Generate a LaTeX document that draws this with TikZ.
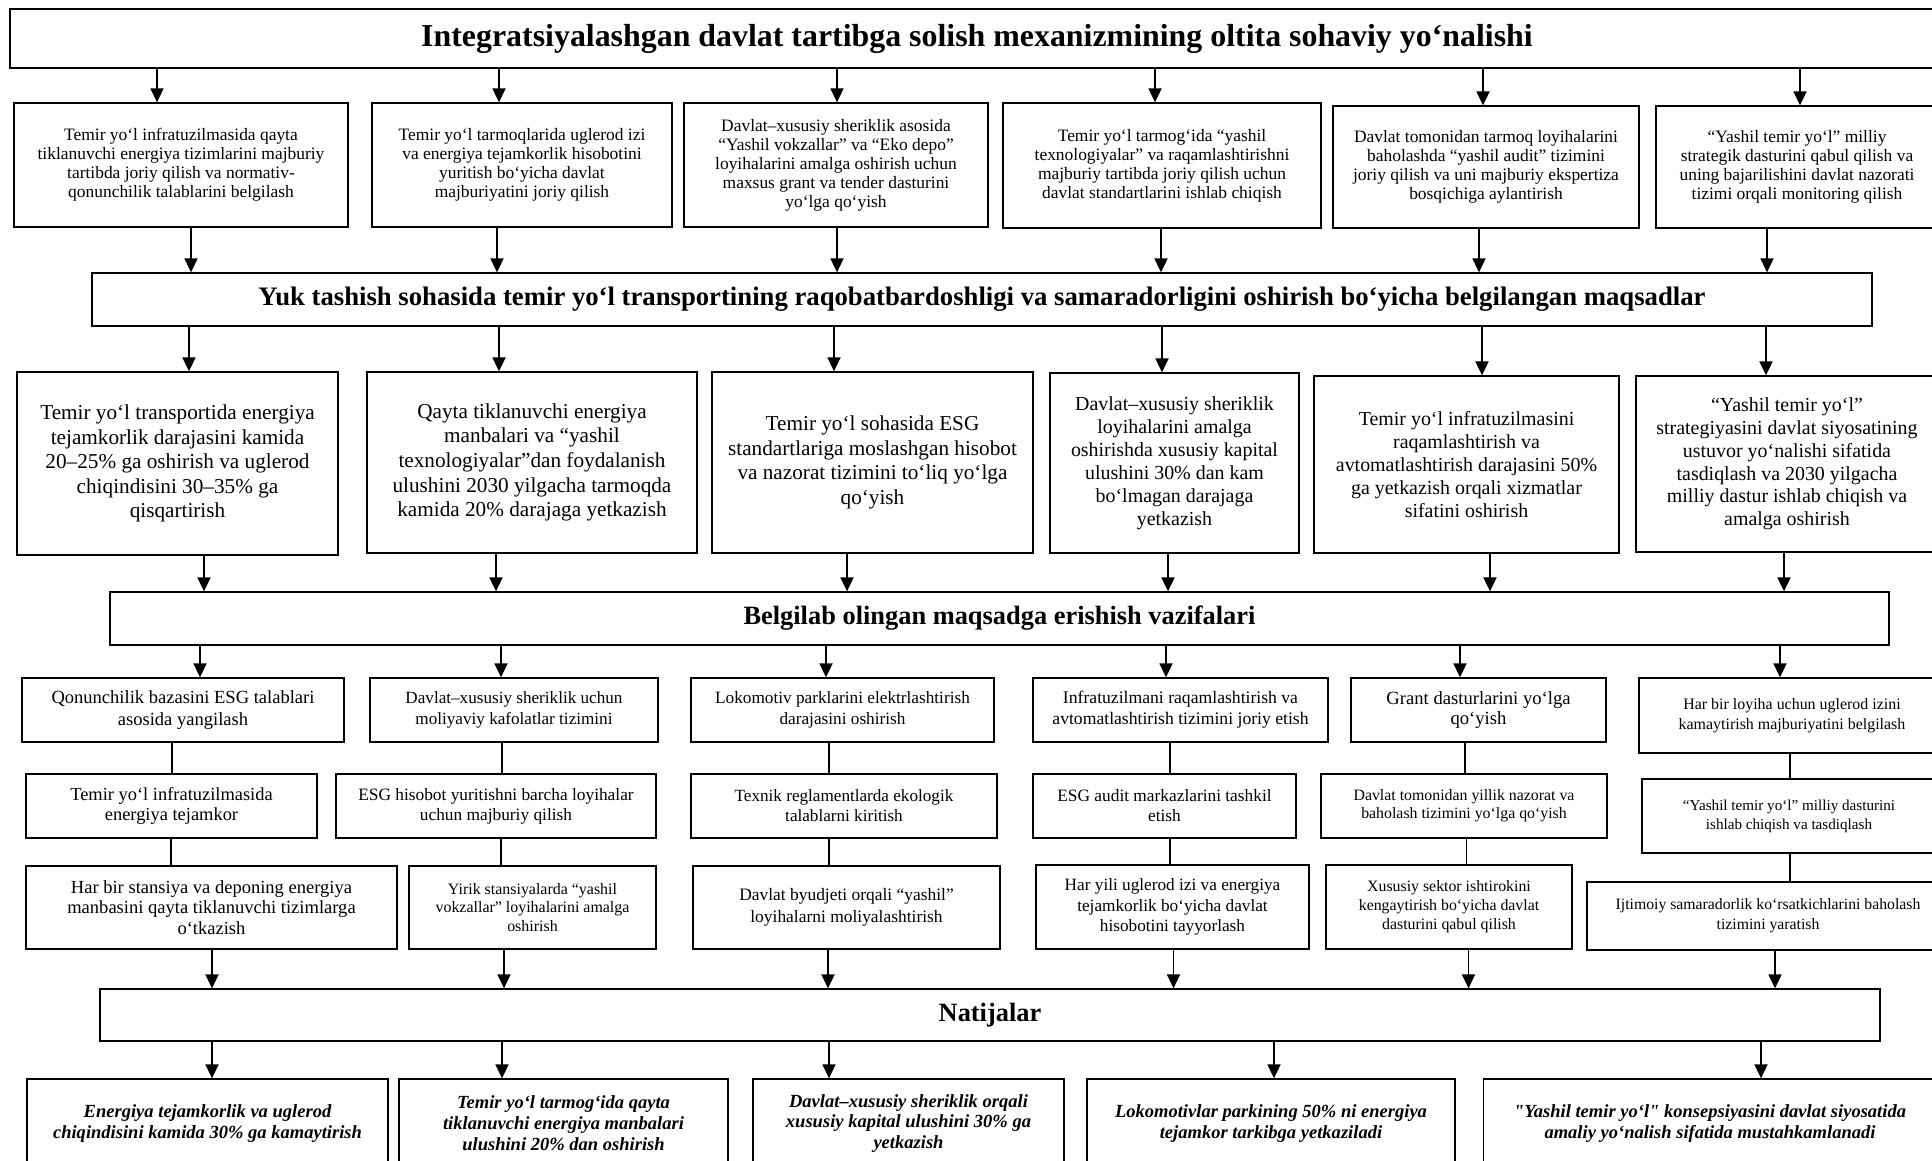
\documentclass[tikz,border=0pt]{standalone}
\usepackage{fontspec}
\setmainfont{Liberation Serif}
\usetikzlibrary{arrows.meta,calc}
\tikzset{
  bx/.style={draw, line width=1.3bp, align=center, inner sep=1bp},
  fs/.style 2 args={font=\fontsize{#1}{#2}\selectfont},
  fsb/.style 2 args={font=\bfseries\fontsize{#1}{#2}\selectfont},
  fsbi/.style 2 args={font=\bfseries\itshape\fontsize{#1}{#2}\selectfont},
  arr/.style={line width=1.8bp, -{Triangle[length=14bp,width=13bp]}},
  ln/.style={line width=1.3bp},
}
% straight double quote
\newcommand\StrQ{{\addfontfeatures{Ligatures=TeXOff}"}}
% arrow from title #1 down to box #2, offset #3 from the box centre
\newcommand\DnArr[3]{\draw[arr] ($(#2.north|-#1.south)+(#3,0)$) -- ($(#2.north)+(#3,0)$);}
% arrow from box #1 down to title #2, offset #3 from the box centre
\newcommand\UpArr[3]{\draw[arr] ($(#1.south)+(#3,0)$) -- ($(#1.south|-#2.north)+(#3,0)$);}
% plain link from box #1 down to box #2, offset #3 from the upper box centre
\newcommand\Lnk[3]{\draw[ln] ($(#1.south)+(#3,0)$) -- ($(#1.south|-#2.north)+(#3,0)$);}
\begin{document}
\begin{tikzpicture}[x=1bp,y=-1bp]
\useasboundingbox (0,0) rectangle (1932,1160);
\fill[white] (0,0) rectangle (1932,1160);
\clip (0,0) rectangle (1932,1160);

% ---------- title 1
\node[bx,fsb={32}{38},minimum width=1934bp,minimum height=59bp] (t1) at (977,38.5)
 {Integratsiyalashgan davlat tartibga solish mexanizmining oltita sohaviy yo‘nalishi};

% ---------- row B
\node[bx,fs={17.5}{19.2},minimum width=334bp,minimum height=124bp] (b1) at (181,165)
 {Temir yo‘l infratuzilmasida qayta\\tiklanuvchi energiya tizimlarini majburiy\\tartibda joriy qilish va normativ-\\qonunchilik talablarini belgilash};
\node[bx,fs={17.5}{19.2},minimum width=300bp,minimum height=124bp] (b2) at (522,165)
 {Temir yo‘l tarmoqlarida uglerod izi\\va energiya tejamkorlik hisobotini\\yuritish bo‘yicha davlat\\majburiyatini joriy qilish};
\node[bx,fs={17.5}{19},minimum width=304bp,minimum height=124bp] (b3) at (836,165)
 {Davlat–xususiy sheriklik asosida\\“Yashil vokzallar” va “Eko depo”\\loyihalarini amalga oshirish uchun\\maxsus grant va tender dasturini\\yo‘lga qo‘yish};
\node[bx,fs={17.5}{19.2},minimum width=318bp,minimum height=125bp] (b4) at (1162,165.5)
 {Temir yo‘l tarmog‘ida “yashil\\texnologiyalar” va raqamlashtirishni\\majburiy tartibda joriy qilish uchun\\davlat standartlarini ishlab chiqish};
\node[bx,fs={17.5}{19.2},minimum width=306bp,minimum height=122bp] (b5) at (1486,167)
 {Davlat tomonidan tarmoq loyihalarini\\baholashda “yashil audit” tizimini\\joriy qilish va uni majburiy ekspertiza\\bosqichiga aylantirish};
\node[bx,fs={17.5}{19.2},minimum width=282bp,minimum height=122bp] (b6) at (1797,167)
 {“Yashil temir yo‘l” milliy\\strategik dasturini qabul qilish va\\uning bajarilishini davlat nazorati\\tizimi orqali monitoring qilish};

% ---------- title 2
\node[bx,fsb={26.8}{32},minimum width=1780bp,minimum height=53bp] (t2) at (982,299.5)
 {Yuk tashish sohasida temir yo‘l transportining raqobatbardoshligi va samaradorligini oshirish bo‘yicha belgilangan maqsadlar};

% ---------- row C
\node[bx,fs={21.3}{24.7},minimum width=321bp,minimum height=183bp] (c1) at (177.5,463.5)
 {Temir yo‘l transportida energiya\\tejamkorlik darajasini kamida\\20–25\% ga oshirish va uglerod\\chiqindisini 30–35\% ga\\qisqartirish};
\node[bx,fs={21.3}{24.7},minimum width=330bp,minimum height=181bp] (c2) at (532,462.5)
 {Qayta tiklanuvchi energiya\\manbalari va “yashil\\texnologiyalar”dan foydalanish\\ulushini 2030 yilgacha tarmoqda\\kamida 20\% darajaga yetkazish};
\node[bx,fs={21.3}{24.7},minimum width=321bp,minimum height=181bp] (c3) at (872.5,462.5)
 {Temir yo‘l sohasida ESG\\standartlariga moslashgan hisobot\\va nazorat tizimini to‘liq yo‘lga\\qo‘yish};
\node[bx,fs={20}{23},minimum width=249bp,minimum height=180bp] (c4) at (1174.5,463)
 {Davlat–xususiy sheriklik\\loyihalarini amalga\\oshirishda xususiy kapital\\ulushini 30\% dan kam\\bo‘lmagan darajaga\\yetkazish};
\node[bx,fs={20}{23},minimum width=305bp,minimum height=177bp] (c5) at (1466.5,464.5)
 {Temir yo‘l infratuzilmasini\\raqamlashtirish va\\avtomatlashtirish darajasini 50\%\\ga yetkazish orqali xizmatlar\\sifatini oshirish};
\node[bx,fs={20}{22.8},minimum width=302bp,minimum height=176bp] (c6) at (1787,464)
 {“Yashil temir yo‘l”\\strategiyasini davlat siyosatining\\ustuvor yo‘nalishi sifatida\\tasdiqlash va 2030 yilgacha\\milliy dastur ishlab chiqish va\\amalga oshirish};

% ---------- title 3
\node[bx,fsb={26.5}{32},minimum width=1779bp,minimum height=53bp] (t3) at (999.5,618.5)
 {Belgilab olingan maqsadga erishish vazifalari};

% ---------- row D
\node[bx,fs={18.6}{21.7},minimum width=322bp,minimum height=64bp] (d1a) at (183,710)
 {Qonunchilik bazasini ESG talablari\\asosida yangilash};
\node[bx,fs={18.5}{20},minimum width=291bp,minimum height=64bp] (d1b) at (171.5,806)
 {Temir yo‘l infratuzilmasida\\energiya tejamkor};
\node[bx,fs={18.6}{20.5},minimum width=371bp,minimum height=83bp] (d1c) at (211.5,907.5)
 {Har bir stansiya va deponing energiya\\manbasini qayta tiklanuvchi tizimlarga\\o‘tkazish};

\node[bx,fs={17.2}{21},minimum width=288bp,minimum height=64bp] (d2a) at (514,710)
 {Davlat–xususiy sheriklik uchun\\moliyaviy kafolatlar tizimini};
\node[bx,fs={17.4}{20},minimum width=320bp,minimum height=64bp] (d2b) at (496,806)
 {ESG hisobot yuritishni barcha loyihalar\\uchun majburiy qilish};
\node[bx,fs={16}{19},minimum width=247bp,minimum height=83bp] (d2c) at (532.5,907.5)
 {Yirik stansiyalarda “yashil\\vokzallar” loyihalarini amalga\\oshirish};

\node[bx,fs={17.3}{21},minimum width=303bp,minimum height=64bp] (d3a) at (842.5,710)
 {Lokomotiv parklarini elektrlashtirish\\darajasini oshirish};
\node[bx,fs={17.2}{20},minimum width=306bp,minimum height=64bp] (d3b) at (844,806)
 {Texnik reglamentlarda ekologik\\talablarni kiritish};
\node[bx,fs={17.5}{22},minimum width=307bp,minimum height=83bp] (d3c) at (846.5,907.5)
 {Davlat byudjeti orqali “yashil”\\loyihalarni moliyalashtirish};

\node[bx,fs={17.7}{21},minimum width=295bp,minimum height=64bp] (d4a) at (1180.5,710)
 {Infratuzilmani raqamlashtirish va\\avtomatlashtirish tizimini joriy etish};
\node[bx,fs={17.4}{20},minimum width=263bp,minimum height=64bp] (d4b) at (1164.5,806)
 {ESG audit markazlarini tashkil\\etish};
\node[bx,fs={17.3}{20.5},minimum width=273bp,minimum height=84bp] (d4c) at (1172.5,907)
 {Har yili uglerod izi va energiya\\tejamkorlik bo‘yicha davlat\\hisobotini tayyorlash};

\node[bx,fs={18.7}{21},minimum width=255bp,minimum height=64bp] (d5a) at (1478.5,710)
 {Grant dasturlarini yo‘lga\\qo‘yish};
\node[bx,fs={15.9}{18},minimum width=286bp,minimum height=64bp] (d5b) at (1464,806)
 {Davlat tomonidan yillik nazorat va\\baholash tizimini yo‘lga qo‘yish};
\node[bx,fs={15.9}{19},minimum width=246bp,minimum height=84bp] (d5c) at (1449,907)
 {Xususiy sektor ishtirokini\\kengaytirish bo‘yicha davlat\\dasturini qabul qilish};

\node[bx,fs={16}{20},minimum width=306bp,minimum height=75bp] (d6a) at (1792,715.5)
 {Har bir loyiha uchun uglerod izini\\kamaytirish majburiyatini belgilash};
\node[bx,fs={15.2}{19},minimum width=294bp,minimum height=74bp] (d6b) at (1789,816)
 {“Yashil temir yo‘l” milliy dasturini\\ishlab chiqish va tasdiqlash};
\node[bx,fs={15.8}{20},minimum width=362bp,minimum height=68bp] (d6c) at (1768,916)
 {Ijtimoiy samaradorlik ko‘rsatkichlarini baholash\\tizimini yaratish};

% ---------- title 4
\node[bx,fsb={26.5}{32},minimum width=1780bp,minimum height=52bp] (t4) at (990,1015)
 {Natijalar};

% ---------- row E
\node[bx,fsbi={18.6}{21},minimum width=361bp,minimum height=89bp] (e1) at (207.5,1123.5)
 {Energiya tejamkorlik va uglerod\\chiqindisini kamida 30\% ga kamaytirish};
\node[bx,fsbi={18.6}{21},minimum width=329bp,minimum height=89bp] (e2) at (563.5,1123.5)
 {Temir yo‘l tarmog‘ida qayta\\tiklanuvchi energiya manbalari\\ulushini 20\% dan oshirish};
\node[bx,fsbi={18.6}{21},minimum width=311bp,minimum height=89bp] (e3) at (908.5,1123.5)
 {Davlat–xususiy sheriklik orqali\\xususiy kapital ulushini 30\% ga\\yetkazish};
\node[bx,fsbi={18.6}{21},minimum width=368bp,minimum height=89bp] (e4) at (1271,1123.5)
 {Lokomotivlar parkining 50\% ni energiya\\tejamkor tarkibga yetkaziladi};
\node[bx,fsbi={18.6}{21},minimum width=453bp,minimum height=89bp] (e5) at (1710,1123.5)
 {\StrQ Yashil temir yo‘l\StrQ{} konsepsiyasini davlat siyosatida\\amaliy yo‘nalish sifatida mustahkamlanadi};

% ---------- connectors
\DnArr{t1}{b1}{-24} \DnArr{t1}{b2}{-23} \DnArr{t1}{b3}{1}
\DnArr{t1}{b4}{-7}  \DnArr{t1}{b5}{-3}  \DnArr{t1}{b6}{3}
\UpArr{b1}{t2}{10}  \UpArr{b2}{t2}{-25} \UpArr{b3}{t2}{1}
\UpArr{b4}{t2}{-1}  \UpArr{b5}{t2}{-7}  \UpArr{b6}{t2}{-30}

\DnArr{t2}{c1}{11.5} \DnArr{t2}{c2}{-33} \DnArr{t2}{c3}{-38.5}
\DnArr{t2}{c4}{-12.5} \DnArr{t2}{c5}{15.5} \DnArr{t2}{c6}{-21}
\UpArr{c1}{t3}{26.5} \UpArr{c2}{t3}{-36} \UpArr{c3}{t3}{-25.5}
\UpArr{c4}{t3}{-6.5} \UpArr{c5}{t3}{23.5} \UpArr{c6}{t3}{-3}

\DnArr{t3}{d1a}{17} \DnArr{t3}{d2a}{-13} \DnArr{t3}{d3a}{-16.5}
\DnArr{t3}{d4a}{-14.5} \DnArr{t3}{d5a}{-18.5} \DnArr{t3}{d6a}{-12}

\Lnk{d1a}{d1b}{-11}   \Lnk{d1b}{d1c}{-0.5}
\Lnk{d2a}{d2b}{-12}   \Lnk{d2b}{d2c}{5}
\Lnk{d3a}{d3b}{-13.5} \Lnk{d3b}{d3c}{-15}
\Lnk{d4a}{d4b}{-10.5} \Lnk{d4b}{d4c}{5.5}
\Lnk{d5a}{d5b}{-13.5} \Lnk{d5b}{d5c}{2.5}
\Lnk{d6a}{d6b}{-2}    \Lnk{d6b}{d6c}{1}

\UpArr{d1c}{t4}{0.5} \UpArr{d2c}{t4}{-28.5} \UpArr{d3c}{t4}{-18.5}
\UpArr{d4c}{t4}{1}   \UpArr{d5c}{t4}{19.5}  \UpArr{d6c}{t4}{7}

\DnArr{t4}{e1}{4.5} \DnArr{t4}{e2}{-61.5} \DnArr{t4}{e3}{-79.5}
\DnArr{t4}{e4}{3}   \DnArr{t4}{e5}{51}
\end{tikzpicture}
\end{document}
